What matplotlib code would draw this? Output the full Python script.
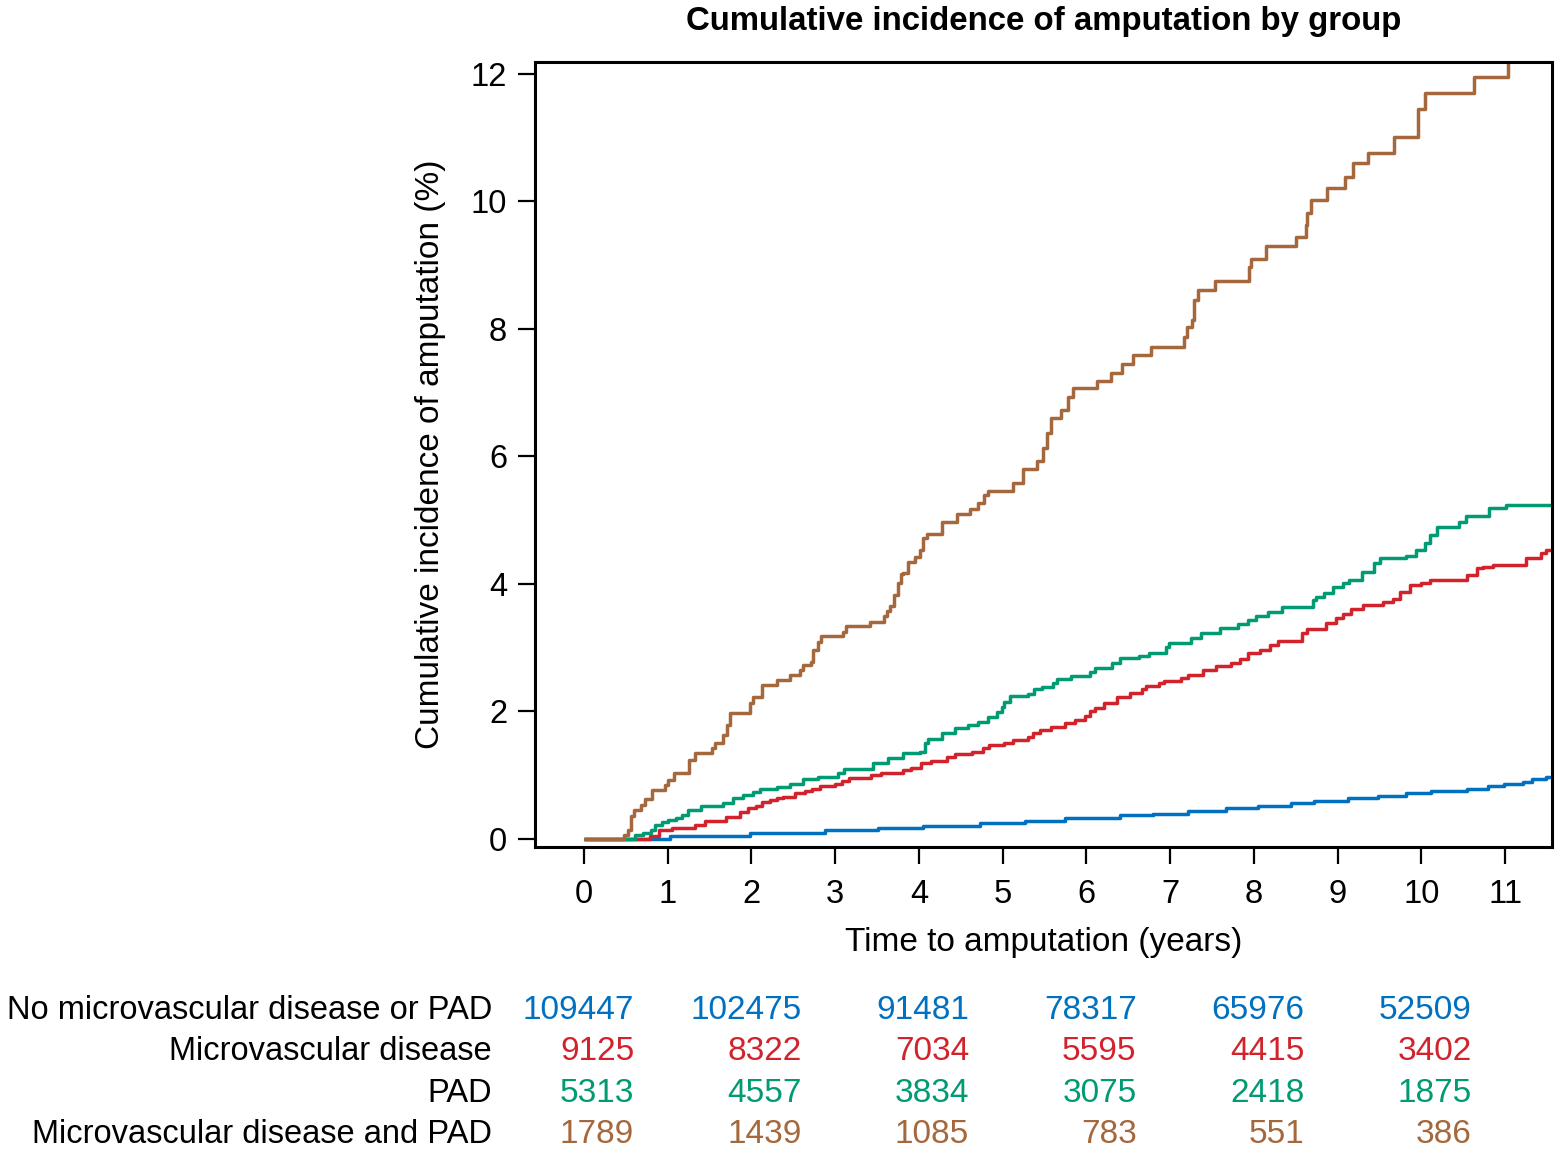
import matplotlib
matplotlib.use("Agg")
import matplotlib.pyplot as plt
import matplotlib.transforms as mtransforms

# step curves: (start time in years, cumulative incidence %)
t_none = [0, 1.03, 1.98, 2.88, 3.51, 4.05, 4.73, 5.27, 5.75, 6.40, 6.79, 7.21, 7.67,
          8.05, 8.44, 8.72, 9.12, 9.48, 9.82, 10.12, 10.55, 10.79, 10.99, 11.21, 11.32, 11.49]
v_none = [0, 0.05, 0.09, 0.14, 0.17, 0.20, 0.25, 0.29, 0.33, 0.37, 0.40, 0.44, 0.48,
          0.52, 0.56, 0.59, 0.64, 0.68, 0.72, 0.76, 0.79, 0.83, 0.87, 0.89, 0.94, 0.97]

t_micro = [0, 0.79, 0.89, 1.05, 1.32, 1.44, 1.70, 1.86, 1.96, 2.06, 2.12, 2.22, 2.30, 2.38,
           2.52, 2.64, 2.72, 2.82, 3.00, 3.08, 3.17, 3.43, 3.55, 3.81, 3.91, 4.03, 4.15, 4.33,
           4.43, 4.63, 4.77, 4.84, 5.02, 5.12, 5.30, 5.36, 5.44, 5.58, 5.74, 5.86, 5.98, 6.04,
           6.10, 6.21, 6.36, 6.52, 6.66, 6.71, 6.87, 6.93, 7.13, 7.21, 7.39, 7.55, 7.73, 7.83,
           7.93, 8.07, 8.19, 8.29, 8.58, 8.64, 8.86, 8.98, 9.06, 9.16, 9.30, 9.54, 9.66, 9.74,
           9.86, 10.00, 10.10, 10.55, 10.67, 10.73, 10.85, 11.25, 11.43, 11.49]
v_micro = [0, 0.05, 0.14, 0.17, 0.22, 0.29, 0.35, 0.42, 0.48, 0.52, 0.58, 0.61, 0.64, 0.66,
           0.72, 0.76, 0.79, 0.83, 0.87, 0.91, 0.95, 1.00, 1.04, 1.08, 1.11, 1.19, 1.23, 1.29,
           1.33, 1.37, 1.42, 1.47, 1.51, 1.55, 1.60, 1.66, 1.71, 1.75, 1.82, 1.87, 1.93, 2.00,
           2.05, 2.13, 2.23, 2.29, 2.35, 2.40, 2.44, 2.48, 2.52, 2.57, 2.65, 2.71, 2.76, 2.82,
           2.92, 2.96, 3.04, 3.10, 3.23, 3.29, 3.38, 3.47, 3.53, 3.60, 3.67, 3.72, 3.77, 3.87,
           3.98, 4.01, 4.06, 4.14, 4.25, 4.27, 4.30, 4.41, 4.49, 4.53]

t_pad = [0, 0.61, 0.71, 0.80, 0.85, 0.93, 1.00, 1.10, 1.17, 1.24, 1.40, 1.66, 1.78, 1.90,
         2.02, 2.10, 2.30, 2.46, 2.62, 2.79, 3.03, 3.11, 3.45, 3.63, 3.81, 4.01, 4.07, 4.11,
         4.27, 4.43, 4.58, 4.70, 4.82, 4.93, 4.99, 5.02, 5.09, 5.30, 5.38, 5.47, 5.60, 5.65,
         5.82, 6.04, 6.10, 6.30, 6.40, 6.63, 6.75, 6.95, 6.99, 7.25, 7.37, 7.59, 7.81, 7.93,
         8.03, 8.17, 8.34, 8.70, 8.74, 8.84, 8.94, 9.06, 9.14, 9.29, 9.44, 9.50, 9.82, 9.94,
         10.04, 10.10, 10.19, 10.45, 10.53, 10.81, 11.01]
v_pad = [0, 0.06, 0.10, 0.14, 0.22, 0.27, 0.30, 0.33, 0.38, 0.45, 0.52, 0.56, 0.64, 0.69,
         0.74, 0.78, 0.82, 0.87, 0.94, 0.97, 1.04, 1.10, 1.19, 1.27, 1.35, 1.37, 1.50, 1.57,
         1.66, 1.74, 1.79, 1.84, 1.92, 1.99, 2.07, 2.15, 2.24, 2.27, 2.35, 2.39, 2.44, 2.51,
         2.56, 2.62, 2.68, 2.76, 2.84, 2.87, 2.92, 3.01, 3.07, 3.15, 3.23, 3.31, 3.37, 3.44,
         3.50, 3.56, 3.64, 3.75, 3.80, 3.86, 3.95, 4.02, 4.06, 4.19, 4.33, 4.41, 4.44, 4.53,
         4.64, 4.77, 4.89, 4.97, 5.07, 5.19, 5.24]

t_both = [0, 0.48, 0.53, 0.56, 0.60, 0.68, 0.73, 0.81, 0.97, 1.00, 1.07, 1.26, 1.33, 1.53,
          1.56, 1.66, 1.71, 1.74, 1.98, 2.02, 2.12, 2.30, 2.46, 2.58, 2.61, 2.71, 2.73, 2.79,
          2.83, 3.09, 3.13, 3.41, 3.58, 3.62, 3.65, 3.70, 3.75, 3.78, 3.81, 3.87, 3.95, 4.01,
          4.05, 4.10, 4.27, 4.46, 4.61, 4.71, 4.78, 4.82, 5.12, 5.24, 5.41, 5.48, 5.53, 5.58,
          5.70, 5.78, 5.84, 6.13, 6.29, 6.42, 6.56, 6.77, 7.16, 7.20, 7.26, 7.28, 7.29, 7.33,
          7.53, 7.94, 7.96, 8.14, 8.50, 8.62, 8.64, 8.68, 8.87, 9.09, 9.18, 9.36, 9.67, 9.96,
          10.04, 10.63, 11.04]
v_both = [0, 0.06, 0.14, 0.36, 0.45, 0.53, 0.62, 0.77, 0.85, 0.93, 1.04, 1.24, 1.35, 1.43,
          1.50, 1.63, 1.79, 1.98, 2.13, 2.23, 2.42, 2.49, 2.57, 2.65, 2.73, 2.78, 2.96, 3.09,
          3.18, 3.25, 3.34, 3.40, 3.50, 3.58, 3.65, 3.83, 4.01, 4.15, 4.17, 4.35, 4.42, 4.53,
          4.72, 4.78, 4.97, 5.10, 5.17, 5.27, 5.40, 5.46, 5.58, 5.80, 5.93, 6.13, 6.37, 6.60,
          6.73, 6.93, 7.07, 7.18, 7.31, 7.45, 7.58, 7.72, 7.87, 8.02, 8.14, 8.30, 8.45, 8.61,
          8.75, 8.96, 9.10, 9.29, 9.44, 9.63, 9.82, 10.01, 10.20, 10.38, 10.59, 10.76, 11.00,
          11.45, 11.70, 11.94, 12.40]

t_end = 11.6

groups = ["No microvascular disease or PAD", "Microvascular disease", "PAD",
          "Microvascular disease and PAD"]
colors = ["#0070c0", "#d2232d", "#009b73", "#a5673c"]

# number at risk
risk_times = [0, 2, 4, 6, 8, 10]
at_risk = [
    [109447, 102475, 91481, 78317, 65976, 52509],
    [9125, 8322, 7034, 5595, 4415, 3402],
    [5313, 4557, 3834, 3075, 2418, 1875],
    [1789, 1439, 1085, 783, 551, 386],
]

plt.rcParams["font.family"] = ["Liberation Sans", "DejaVu Sans"]
plt.rcParams["font.size"] = 24

fig = plt.figure(figsize=(15.57, 11.51), dpi=100)
ax = fig.add_axes([0.3436, 0.2641, 0.6532, 0.682])

curves = [(t_none, v_none), (t_micro, v_micro), (t_pad, v_pad), (t_both, v_both)]
for (t, v), c in zip(curves, colors):
    ax.step(t + [t_end], v + [v[-1]], where="post", color=c, lw=2.5, solid_capstyle="butt")

ax.set_xlim(-0.585, 11.56)
ax.set_ylim(-0.125, 12.18)
ax.set_xticks(range(0, 12))
ax.set_yticks(range(0, 13, 2))
for s in ax.spines.values():
    s.set_linewidth(2.2)
ax.tick_params(axis="both", length=12, width=1.6, labelsize=23.5)
ax.tick_params(axis="y", pad=8)
ax.tick_params(axis="x", pad=11)

ax.set_title("Cumulative incidence of amputation by group", fontweight="bold",
             fontsize=23.8, pad=23)
ax.set_xlabel("Time to amputation (years)", va="center")
ax.xaxis.set_label_coords(0.5, -0.121)
ax.set_ylabel("Cumulative incidence of amputation (%)", va="center")
ax.yaxis.set_label_coords(-0.1032, 0.5)

# number-at-risk table under the plot
trans = mtransforms.blended_transform_factory(ax.transData, fig.transFigure)
row_y = [1019, 1060, 1102, 1143]
for i, name in enumerate(groups):
    y = 1 - row_y[i] / 1151
    fig.text(0.316, y, name, ha="right", va="baseline", fontsize=23.5)
    for tt, n in zip(risk_times, at_risk[i]):
        ax.text(tt + 0.6, y, str(n), transform=trans, ha="right", va="baseline",
                color=colors[i], fontsize=24, clip_on=False)

fig.savefig("out.png", dpi=100)
